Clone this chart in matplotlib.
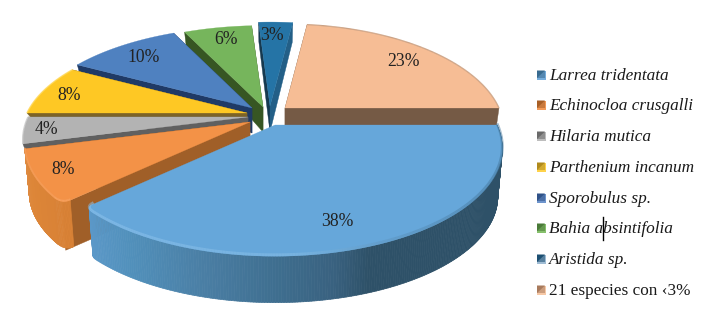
import numpy as np
import matplotlib
matplotlib.use("Agg")
import matplotlib.pyplot as plt
from matplotlib.collections import PolyCollection, LineCollection
from matplotlib.colors import to_rgb

categories = ["Larrea tridentata", "Echinocloa crusgalli", "Hilaria mutica",
              "Parthenium incanum", "Sporobulus sp.", "Bahia absintifolia",
              "Aristida sp.", "21 especies con ‹3%"]
values = [38, 8, 4, 8, 10, 6, 3, 23]
labels = ["38%", "8%", "4%", "8%", "10%", "6%", "3%", "23%"]

# styles
top_colors = ["#66a7da", "#f39247", "#b3b3b3", "#fec824", "#4f81c0", "#76b55c", "#2574a6", "#f6bd95"]
cut_left = ["#3d6f92", "#a05f28", "#606060", "#7c6327", "#1f3a66", "#375623", "#16394f", "#755a45"]
cut_right = ["#3d6f92", "#a05f28", "#606060", "#7c6327", "#1f3a66", "#375623", "#235f87", "#755a45"]
apex = [(275, 125), (250, 122), (248, 117), (247, 113), (252, 108), (263, 107), (270, 106), (285, 108)]
rx = [222, 220, 220, 220, 220, 220, 220, 214]
ry_scale = [1.01, 1, 1, 0.97, 0.97, 0.97, 1, 1]
thick_in = [49, 48, 12, 5, 25, 25, 26, 30]
thick_out = [49, 48, 12, 5, 12, 12, 18, 30]
label_xy = [(337, 221.5), (63, 170), (46, 130), (69, 96), (144, 57), (226, 39), (272, 36), (404, 61)]
legend_y = [76, 106, 137, 168, 199, 229, 260, 291]
leg_dark = ["#386b90", "#a85f26", "#6a6a6a", "#b08a1c", "#2f5288", "#4a7a38", "#1c4f72", "#a87a5c"]
leg_light = ["#76addc", "#f29a58", "#bdbdbd", "#fed24a", "#6d94cc", "#86c06c", "#9fbcd4", "#f6c8a6"]
italic = [True] * 7 + [False]
BY, K = 102.0, 0.215

plt.rcParams["font.family"] = ["Liberation Serif", "DejaVu Serif"]
fig = plt.figure(figsize=(7.18, 3.16), dpi=100)
ax = fig.add_axes([0, 0, 1, 1])
ax.set_xlim(0, 718)
ax.set_ylim(316, 0)
ax.axis("off")


def project(theta, a, b, A):
    X, Y = np.cos(theta), np.sin(theta)
    s = 1 / (1 - K * Y)
    return np.column_stack([A[0] + a * X * s, A[1] + b * Y * s])


def lerp_colors(stops, u):
    xs = [p for p, _ in stops]
    cs = np.array([to_rgb(c) for _, c in stops])
    return np.column_stack([np.interp(u, xs, cs[:, i]) for i in range(3)])


def round_start(arc, A, d=9):
    """soften the corner where a cut edge meets the arc's first point"""
    c = arc[0]
    v = (np.array(A) - c) / np.hypot(*(np.array(A) - c))
    p0 = c + v * d
    dist = np.cumsum(np.r_[0, np.hypot(*np.diff(arc, axis=0).T)])
    i = np.searchsorted(dist, d)
    t = np.linspace(0, 1, 12)[:, None]
    curve = (1 - t) ** 2 * p0 + 2 * t * (1 - t) * c + t ** 2 * arc[i]
    return np.vstack([curve, arc[i + 1:]])


def lower(P, A, t):
    return np.array(A) + (np.asarray(P) - np.array(A)) * 0.98 + np.array([0, t])


wall_stops = {
    0: [(0, "#5b98c8"), (0.10, "#5190bb"), (0.28, "#4a7ea4"), (0.45, "#3f6f90"), (0.60, "#39617f"), (0.68, "#2e5168"), (1, "#2e5168")],
    1: [(0, "#d98236"), (0.6, "#dd8638"), (1, "#de8a40")],
}

fracs = np.cumsum([0] + values) / sum(values) * 2 * np.pi
for i in range(len(values) - 1, -1, -1):
    z = 10 + (7 - i)
    A = apex[i]
    theta = np.linspace(fracs[i], fracs[i + 1], 240)
    arc = project(theta, rx[i], BY * ry_scale[i], A)
    if i == 0:
        arc_r = round_start(arc[::-1], A)[::-1]
    elif i == 1:
        arc_r = round_start(arc, A)
    else:
        arc_r = arc
    if i != 0:
        for P, col in ((arc[0], cut_left[i]), (arc[-1], cut_right[i])):
            Pb = lower(P, A, thick_out[i])
            Ab = lower(A, A, thick_in[i])
            ax.fill([A[0], P[0], Pb[0], Ab[0]], [A[1], P[1], Pb[1], Ab[1]], color=col, lw=0.3, zorder=z)
    if i in wall_stops:
        bot = lower(arc_r, A, thick_out[i])
        if i == 0:
            u = (arc_r[:, 0] - arc_r[:, 0].min()) / np.ptp(arc_r[:, 0])
        else:
            u = np.linspace(0, 1, len(arc_r))
        cols = lerp_colors(wall_stops[i], u)
        quads = [np.vstack([arc_r[j], arc_r[j + 1], bot[j + 1], bot[j]]) for j in range(len(arc_r) - 1)]
        ax.add_collection(PolyCollection(quads, facecolors=cols[:-1], edgecolors=cols[:-1], linewidths=0.5, zorder=z))
    outline = np.vstack([A, arc_r])
    ax.fill(outline[:, 0], outline[:, 1], color=top_colors[i], lw=0.2, zorder=z)
    segs = np.stack([arc_r[:-1], arc_r[1:]], axis=1)
    if i == 0:
        u = (arc_r[:-1, 0] - arc_r[:, 0].min()) / np.ptp(arc_r[:, 0])
        rim = lerp_colors([(0, "#8fc4ee"), (0.5, "#86bde6"), (0.72, "#5f97c2"), (1, "#44779c")], u)
        ax.add_collection(LineCollection(segs + np.array([0, -1.5]), colors=rim, linewidths=2.0, alpha=0.55, zorder=z))
    elif i == 1:
        ax.add_collection(LineCollection(segs + np.array([0, -1]), colors="#f8a564", linewidths=1.3, alpha=0.7, zorder=z))
    elif i == 7:
        ax.add_collection(LineCollection(segs, colors="#c9a184", linewidths=0.9, zorder=z))
    elif i == 3:
        ax.add_collection(LineCollection(segs, colors="#ffdc5c", linewidths=1.0, zorder=z))
    elif i == 2:
        ax.add_collection(LineCollection(segs, colors="#cfcfcf", linewidths=1.0, zorder=z))

for (x, y), lab in zip(label_xy, labels):
    ax.text(x, y, lab, fontsize=12.7, color="#222222", ha="center", va="center", zorder=30)

# legend
for name, y, dark, light, it in zip(categories, legend_y, leg_dark, leg_light, italic):
    ym = y - 1
    ax.fill([537, 546, 546, 537], [ym - 4.5, ym - 4.5, ym + 4.5, ym + 4.5], color=light, lw=0, zorder=20)
    ax.fill([537, 545, 537], [ym - 4.5, ym - 4.5, ym + 3], color=dark, lw=0, zorder=21)
    ax.fill([537, 545, 545, 537], [ym - 4.5, ym - 4.5, ym + 2.5, ym + 2.5], color=dark, lw=0, alpha=0.55, zorder=21)
    ax.text(549, y, name, fontsize=12.4, color="#1a1a1a", style="italic" if it else "normal",
            ha="left", va="center", zorder=22)

# text cursor left in the legend
ax.plot([603, 603], [217, 240], color="black", lw=1.0, zorder=25)

fig.savefig("out.png", dpi=100)
